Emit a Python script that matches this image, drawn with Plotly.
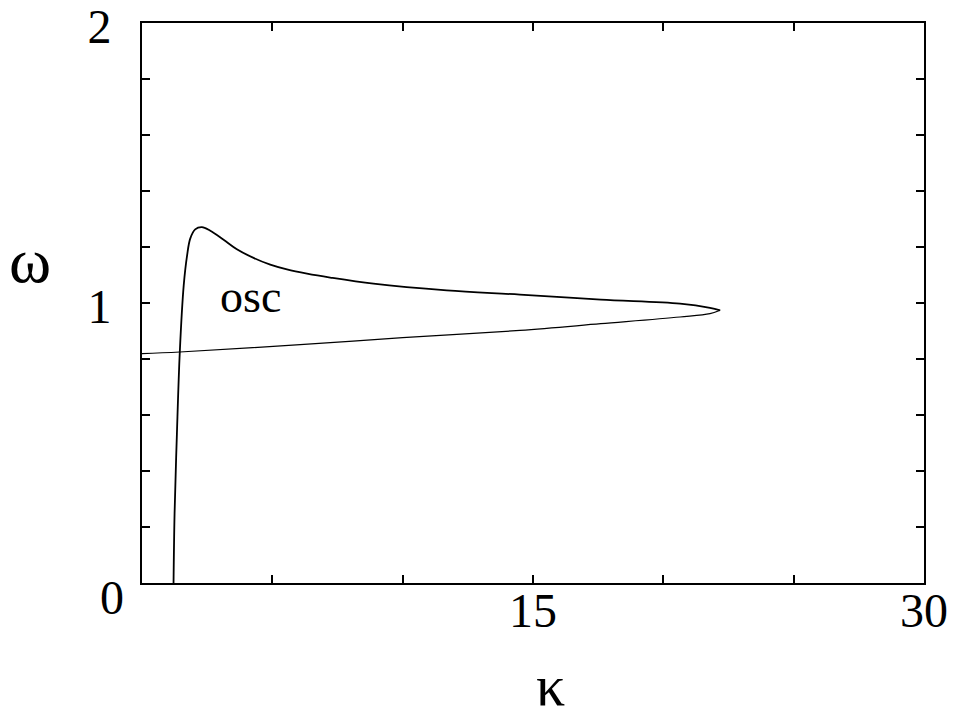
import plotly.graph_objects as go

# upper / steep branch (kappa, omega)
k_up = [1.21, 1.25, 1.34, 1.45, 1.6, 1.73, 1.85, 2.04, 2.3, 2.62, 3.13, 3.64,
        4.28, 4.92, 5.56, 6.33, 7.22, 8.88, 11.69, 14.5, 17.6, 20.64, 21.79, 22.18]
w_up = [0.0, 0.249, 0.535, 0.825, 1.063, 1.17, 1.23, 1.263, 1.271, 1.258, 1.226, 1.192,
        1.161, 1.137, 1.12, 1.105, 1.091, 1.069, 1.045, 1.03, 1.012, 0.998, 0.983, 0.974]

# lower branch
k_lo = [22.18, 21.79, 20.64, 17.6, 14.5, 10.0, 6.07, 1.45, 0.0]
w_lo = [0.974, 0.962, 0.95, 0.926, 0.902, 0.876, 0.851, 0.825, 0.819]

xtick_vals = [0, 5, 10, 15, 20, 25, 30]
xtick_text = ["", "", "", "15", "", "", "30"]
ytick_vals = [0, 0.2, 0.4, 0.6, 0.8, 1.0, 1.2, 1.4, 1.6, 1.8, 2.0]
ytick_text = ["", "", "", "", "", "1", "", "", "", "", "2"]

serif = "Liberation Serif, Times New Roman, serif"

fig = go.Figure()
fig.add_trace(go.Scatter(x=k_up, y=w_up, mode="lines",
                         line=dict(color="black", width=1.8, shape="spline", smoothing=1.0)))
fig.add_trace(go.Scatter(x=k_lo, y=w_lo, mode="lines",
                         line=dict(color="black", width=1.2, shape="spline", smoothing=1.0)))

fig.add_annotation(x=4.15, y=1.025, text="osc", showarrow=False,
                   font=dict(family=serif, size=46, color="black"))
fig.add_annotation(x=-0.038, y=-0.026, xref="paper", yref="paper", text="0", showarrow=False,
                   xanchor="center", yanchor="middle", font=dict(family=serif, size=48, color="black"))
fig.add_annotation(x=-0.1428, y=0.576, xref="paper", yref="paper", text="ω", showarrow=False,
                   xanchor="center", yanchor="middle", font=dict(family=serif, size=64, color="black"))
fig.add_annotation(x=0.522, y=-0.1827, xref="paper", yref="paper", text="κ", showarrow=False,
                   xanchor="center", yanchor="middle", font=dict(family=serif, size=58, color="black"))

axis_common = dict(showgrid=False, zeroline=False, showline=True, linecolor="black", linewidth=2,
                   mirror="ticks", ticks="inside", ticklen=8, tickwidth=2, tickcolor="black",
                   ticklabeloverflow="allow", automargin=False,
                   tickfont=dict(family=serif, size=48, color="black"))
fig.update_xaxes(range=[0, 30], tickmode="array", tickvals=xtick_vals, ticktext=xtick_text,
                 ticklabelstandoff=-16, **axis_common)
fig.update_yaxes(range=[0, 2], tickmode="array", tickvals=ytick_vals, ticktext=ytick_text,
                 ticklabelstandoff=19, ticklabelshift=3, **axis_common)

# page has an 8px body margin, so the figure is a bit smaller than the window
fig.update_layout(width=950, height=709, showlegend=False, plot_bgcolor="white", paper_bgcolor="white",
                  margin=dict(l=134, r=34, t=15, b=134))
fig.write_html("out.html")
